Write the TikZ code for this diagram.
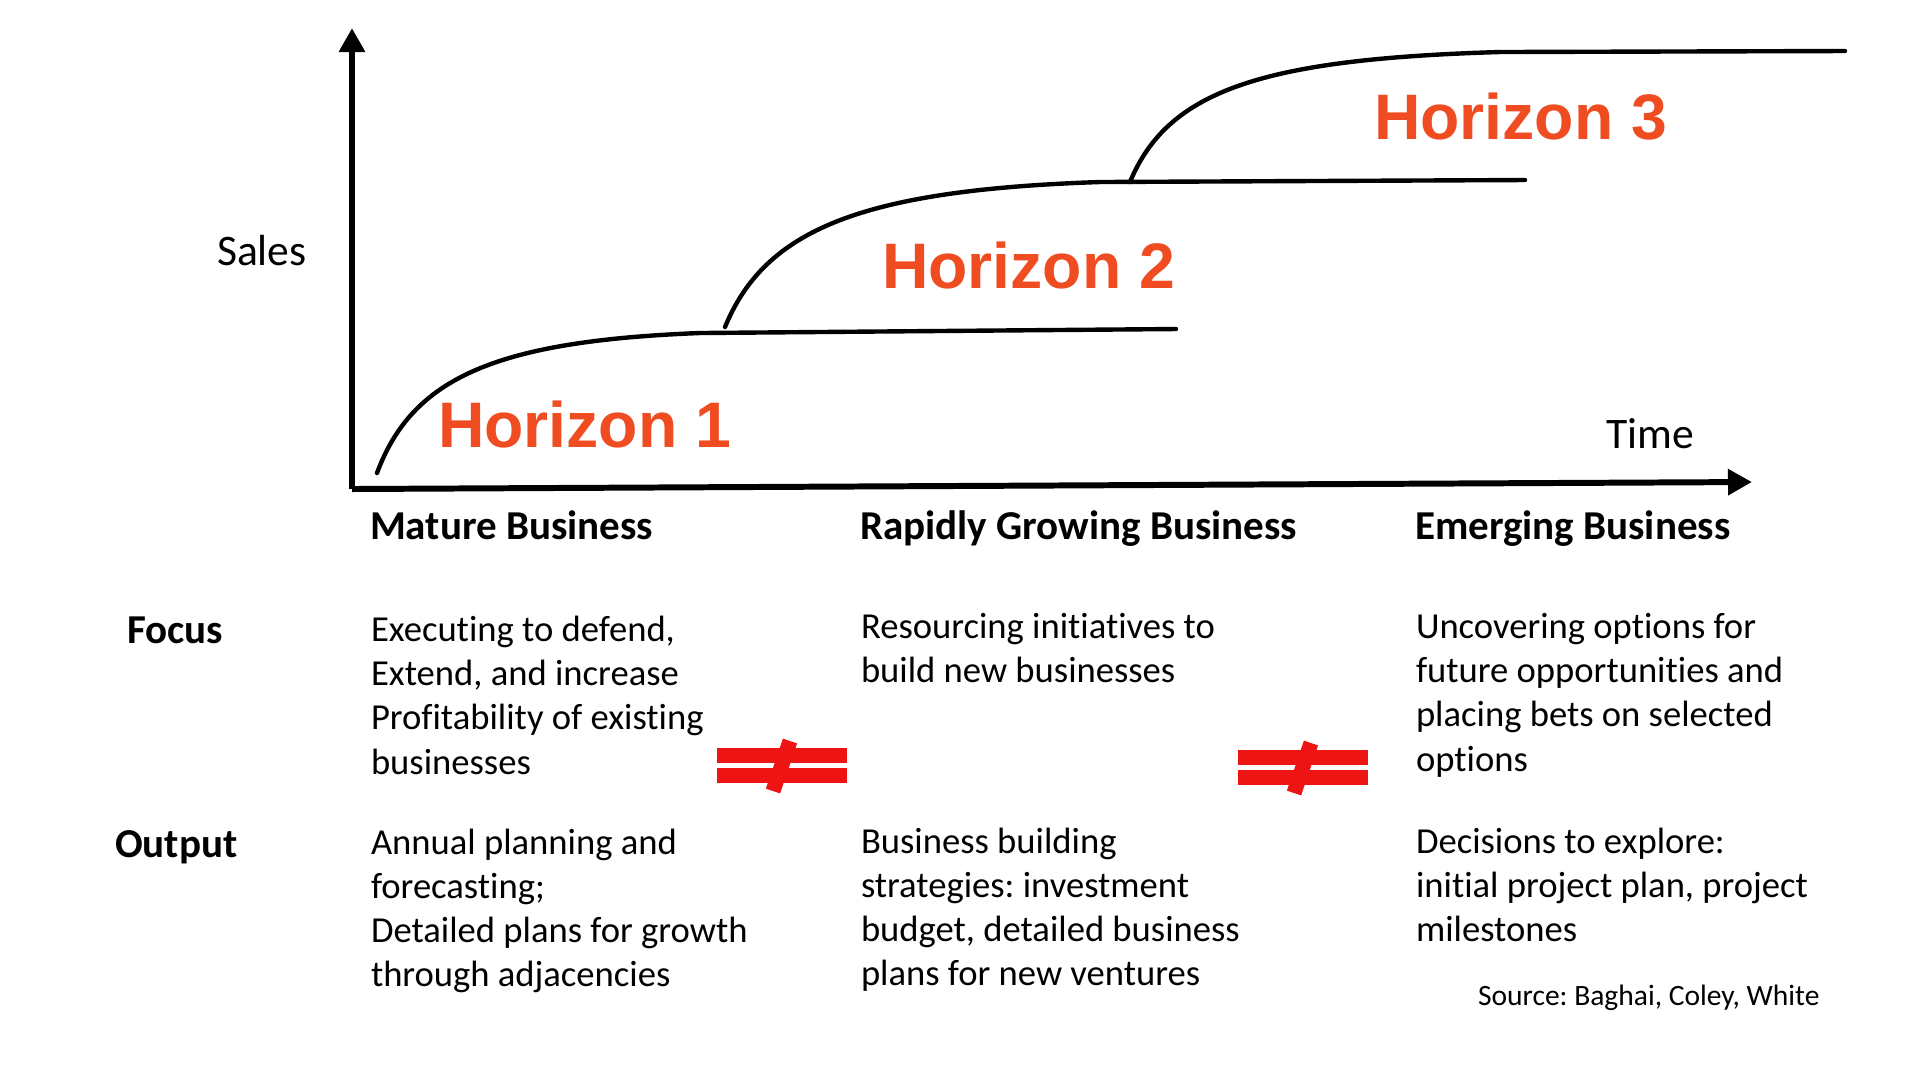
\documentclass[tikz,border=0pt]{standalone}
\usepackage{fontspec}
\setmainfont{Carlito}[Ligatures=NoCommon]
\newfontfamily\hzfont{Liberation Sans}
\usetikzlibrary{arrows.meta}
\frenchspacing
\definecolor{hzorange}{RGB}{240,76,34}
\definecolor{neqred}{RGB}{238,20,20}
\newcommand{\mylines}[1]{\begin{tabular}[t]{@{}l@{}}#1\end{tabular}}
\begin{document}
\frenchspacing
\begin{tikzpicture}[x=0.1mm,y=-0.1mm,
  axisline/.style={line width=1.7pt,-{Triangle[length=2.4mm,width=2.5mm]}},
  growth/.style={line width=1.25pt,line cap=round},
  txt/.style={anchor=base west,inner sep=0pt,outer sep=0pt},
  bodytxt/.style={txt,font=\fontsize{10.42pt}{12.58pt}\selectfont},
  headtxt/.style={txt,font=\fontsize{11.68pt}{13.8pt}\selectfont\bfseries},
  axtxt/.style={txt,font=\fontsize{12.4pt}{14.6pt}\selectfont},
  hztxt/.style={txt,text=hzorange,font=\fontsize{18.3pt}{21pt}\selectfont\hzfont\bfseries},
  srctxt/.style={txt,font=\fontsize{8.4pt}{10pt}\selectfont},
  noteq/.pic={
    \fill[neqred] (-65,-18) rectangle (65,-3);
    \fill[neqred] (-65,2) rectangle (65,17);
    \fill[neqred] (15.1,-22.6) -- (0.9,-27.4) -- (-16.1,22.6) -- (-1.9,27.4) -- cycle;
  }]
\useasboundingbox (0,0) rectangle (1920,1080);

% axes
\coordinate (O) at (352,489);
\coordinate (ytip) at (352,28);
\coordinate (xtip) at (1752,482);
\draw[axisline] (O) -- (ytip);
\draw[axisline] (O) -- (xtip);

% growth curves
\draw[growth] (377,473) .. controls (412,379) and (493,341) .. (700,333) -- (1176,329);
\draw[growth] (725,327) .. controls (765,230) and (860,190) .. (1100,182) -- (1525,180);
\draw[growth] (1130,182) .. controls (1168,90) and (1263,59) .. (1500,52) -- (1845,51);

% horizon labels
\node[hztxt] (h1) at (438,447) {Horizon 1};
\node[hztxt] (h2) at (882,288) {Horizon 2};
\node[hztxt] (h3) at (1374,139) {Horizon 3};

% axis labels
\node[axtxt] (sales) at (217,265) {Sales};
\node[axtxt] (time) at (1606,448) {Time};

% column headers
\node[headtxt] (c1) at (370,539) {Mature Business};
\node[headtxt] (c2) at (860,539) {Rapidly Growing Business};
\node[headtxt] (c3) at (1415,539) {Emerging Business};

% row labels
\node[headtxt] (focus) at (127,643) {Focus};
\node[headtxt] (output) at (115,857) {Output};

% focus row
\node[bodytxt] (f1) at (371,641.5) {\mylines{Executing to defend,\\ Extend, and increase\\ Profitability of existing\\ businesses}};
\node[bodytxt] (f2) at (861,638.5) {\mylines{Resourcing initiatives to\\ build new businesses}};
\node[bodytxt] (f3) at (1416,638.5) {\mylines{Uncovering options for\\ future opportunities and\\ placing bets on selected\\ options}};

% output row
\node[bodytxt] (o1) at (371,854) {\mylines{Annual planning and\\ forecasting;\\ Detailed plans for growth\\ through adjacencies}};
\node[bodytxt] (o2) at (861,853) {\mylines{Business building\\ strategies: investment\\ budget, detailed business\\ plans for new ventures}};
\node[bodytxt] (o3) at (1416,853) {\mylines{Decisions to explore:\\ initial project plan, project\\ milestones}};

% not-equal signs
\pic at (782,766) {noteq};
\pic at (1303,768) {noteq};

% source
\node[srctxt] (src) at (1478,1005) {Source: Baghai, Coley, White};
\end{tikzpicture}
\end{document}
